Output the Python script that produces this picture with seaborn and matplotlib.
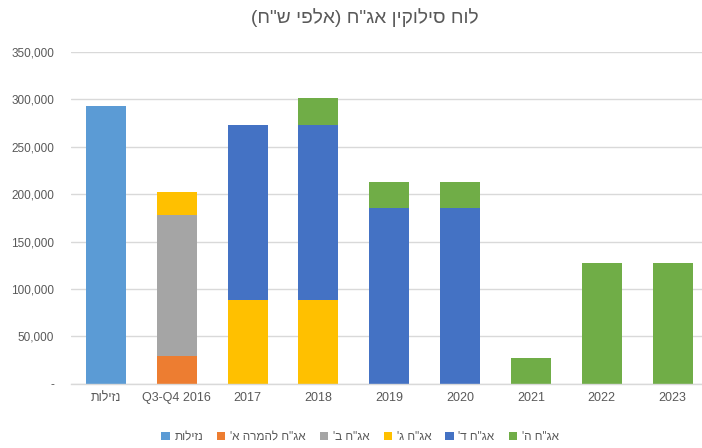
import numpy as np
import pandas as pd
import matplotlib
matplotlib.use("Agg")
import matplotlib.pyplot as plt
import seaborn as sns
from matplotlib.ticker import FuncFormatter
from matplotlib.patches import Patch

# ---- data ----
categories = ["נזילות", "Q3-Q4 2016", "2017", "2018", "2019", "2020", "2021", "2022", "2023"]
series_names = ["נזילות", "אג\"ח להמרה א'", "אג\"ח ב'", "אג\"ח ג'", "אג\"ח ד'", "אג\"ח ה'"]
liquidity  = [293000, 0, 0, 0, 0, 0, 0, 0, 0]
conv_a     = [0, 29500, 0, 0, 0, 0, 0, 0, 0]
bond_b     = [0, 148500, 0, 0, 0, 0, 0, 0, 0]
bond_g     = [0, 24500, 88000, 88000, 0, 0, 0, 0, 0]
bond_d     = [0, 0, 185500, 185500, 185500, 185500, 0, 0, 0]
bond_h     = [0, 0, 0, 27500, 27500, 27500, 27000, 127500, 127500]
colors = ["#5B9BD5", "#ED7D31", "#A5A5A5", "#FFC000", "#4472C4", "#70AD47"]
title = "לוח סילוקין אג\"ח (אלפי ש\"ח)"
yticks = [0, 50000, 100000, 150000, 200000, 250000, 300000, 350000]


def rtl(s):
    """Visual order for right-to-left Hebrew text."""
    if not any("\u0590" <= ch <= "\u05FF" for ch in s):
        return s
    mirror = {"(": ")", ")": "("}
    return "".join(mirror.get(ch, ch) for ch in reversed(s))


sns.set_theme(style="white")
plt.rcParams["font.family"] = ["Liberation Sans", "DejaVu Sans"]

fig = plt.figure(figsize=(7.02, 4.48), dpi=100)
left_px, right_px, top_px, bottom_px = 70.6, 708.0, 52.0, 383.8
ax = fig.add_axes([left_px / 702, (448 - bottom_px) / 448,
                   (right_px - left_px) / 702, (bottom_px - top_px) / 448])

all_series = [liquidity, conv_a, bond_b, bond_g, bond_d, bond_h]
bottom = np.zeros(len(categories))
for name, vals, col in zip(series_names, all_series, colors):
    vals = np.array(vals, dtype=float)
    sns.barplot(x=categories, y=vals, bottom=bottom, color=col, width=0.565,
                ax=ax, linewidth=0, saturation=1, errorbar=None)
    bottom = bottom + vals

ax.set_ylim(0, 350000)
ax.set_xlim(-0.5, len(categories) - 0.5)
ax.set_yticks(yticks)
ax.yaxis.set_major_formatter(FuncFormatter(lambda v, p: "-" if v == 0 else f"{int(v):,}"))
ax.set_xticks(range(len(categories)))
ax.set_xticklabels([rtl(c) for c in categories])
ax.grid(axis="y", color="#D9D9D9", linewidth=1)
ax.set_axisbelow(True)
for s in ["top", "right", "left"]:
    ax.spines[s].set_visible(False)
ax.spines["bottom"].set_color("#D9D9D9")
ax.spines["bottom"].set_linewidth(1)
ax.tick_params(axis="both", length=0, colors="#595959", labelsize=8.5)
ax.tick_params(axis="x", labelsize=9)
ax.tick_params(axis="y", pad=12)
ax.tick_params(axis="x", pad=6)
ax.set_xlabel("")
ax.set_ylabel("")

fig.text(365 / 702, 1 - 18 / 448, rtl(title), ha="center", va="center",
         fontsize=13.8, color="#595959")

handles = [Patch(facecolor=c, edgecolor="none") for c in colors]
fig.legend(handles, [rtl(n) for n in series_names], loc="center",
           bbox_to_anchor=(360 / 702, 1 - 437 / 448), ncol=6, frameon=False,
           fontsize=8.5, handlelength=0.7, handleheight=0.7, handletextpad=0.4,
           columnspacing=1.2, labelcolor="#595959")

fig.savefig("out.png", dpi=100)
